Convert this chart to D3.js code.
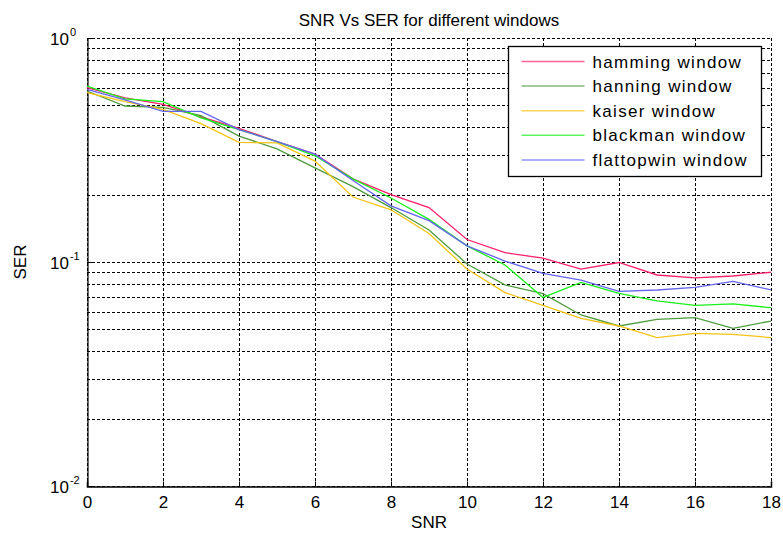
<!DOCTYPE html>
<html>
<head>
<meta charset="utf-8">
<script src="https://cdn.jsdelivr.net/npm/d3@7"></script>
<style>
  body { margin: 0; background: #fff; }
  text { font-family: "Liberation Sans", Arial, sans-serif; fill: #000; }
</style>
</head>
<body>
<div id="chart"></div>
<script>
// SNR values (x axis)
const snr = [0, 1, 2, 3, 4, 5, 6, 7, 8, 9, 10, 11, 12, 13, 14, 15, 16, 17, 18];

// SER per window
const hamming   = [0.60, 0.54, 0.505, 0.445, 0.395, 0.345, 0.303, 0.235, 0.200, 0.175, 0.126, 0.110, 0.104, 0.093, 0.0995, 0.0875, 0.085, 0.0866, 0.090];
const hanning   = [0.58, 0.497, 0.49, 0.45, 0.365, 0.32, 0.263, 0.217, 0.175, 0.139, 0.098, 0.079, 0.0722, 0.058, 0.0518, 0.0555, 0.0565, 0.0506, 0.0545];
const kaiser    = [0.57, 0.52, 0.48, 0.415, 0.342, 0.34, 0.282, 0.195, 0.171, 0.134, 0.093, 0.073, 0.064, 0.056, 0.0518, 0.046, 0.048, 0.0475, 0.046];
const blackman  = [0.61, 0.535, 0.52, 0.44, 0.39, 0.345, 0.298, 0.235, 0.193, 0.155, 0.118, 0.097, 0.0695, 0.081, 0.0725, 0.067, 0.064, 0.065, 0.0625];
const flattopwin = [0.59, 0.53, 0.47, 0.47, 0.39, 0.345, 0.303, 0.231, 0.178, 0.153, 0.118, 0.101, 0.089, 0.083, 0.074, 0.075, 0.077, 0.082, 0.075];

const seriesNames = ["hamming window", "hanning window", "kaiser window", "blackman window", "flattopwin window"];
const seriesValues = [hamming, hanning, kaiser, blackman, flattopwin];
const seriesColors = ["#ff1f6b", "#4f9c3e", "#f5c215", "#19f019", "#6565ee"];

const xTicks = [0, 2, 4, 6, 8, 10, 12, 14, 16, 18];
const yDecades = [1, 0.1, 0.01];
const yDecadeLabels = ["0", "-1", "-2"];

// Dimensions
const width = 783, height = 536;
const margin = {left: 87, right: 12, top: 38, bottom: 50};

const svg = d3.select("#chart")
    .append("svg")
        .attr("width", width)
        .attr("height", height);

const x = d3.scaleLinear()
    .domain([0, 18])
    .range([margin.left, width - margin.right]);

const y = d3.scaleLog()
    .domain([0.01, 1])
    .range([height - margin.bottom, margin.top]);

// Grid lines (minor log grid included)
const yGrid = [];
for (let d = 0.01; d < 1; d *= 10) {
    for (let k = 1; k <= 9; k++) yGrid.push(+(d * k).toPrecision(3));
}
yGrid.push(1);

const grid = svg.append("g")
    .attr("stroke", "#000")
    .attr("stroke-width", 1)
    .attr("stroke-dasharray", "3,2")
    .attr("shape-rendering", "crispEdges");

grid.selectAll("line.gy")
    .data(yGrid)
    .enter()
    .append("line")
        .attr("x1", x(0))
        .attr("x2", x(18))
        .attr("y1", d => Math.round(y(d)) + 0.5)
        .attr("y2", d => Math.round(y(d)) + 0.5);

grid.selectAll("line.gx")
    .data(xTicks)
    .enter()
    .append("line")
        .attr("x1", d => Math.round(x(d)) + 0.5)
        .attr("x2", d => Math.round(x(d)) + 0.5)
        .attr("y1", y(1))
        .attr("y2", y(0.01));

// Axes
const xAxis = d3.axisBottom(x)
    .tickValues(xTicks)
    .tickSize(-5)
    .tickPadding(9)
    .tickFormat(d3.format("d"));

const xg = svg.append("g")
    .attr("transform", `translate(0,${Math.round(y(0.01)) + 0.5})`)
    .call(xAxis);
xg.select(".domain").attr("stroke-width", 1.5);
xg.selectAll("text")
    .attr("font-size", 17)
    .attr("font-family", "Liberation Sans, Arial, sans-serif");

const yAxis = d3.axisLeft(y)
    .tickValues(yDecades)
    .tickSize(-5)
    .tickFormat("");

const yg = svg.append("g")
    .attr("transform", `translate(${Math.round(x(0)) + 0.5},0)`)
    .call(yAxis);
yg.select(".domain").attr("stroke-width", 1.2);

// y tick labels as 10^n
const yLabels = svg.append("g");
yDecades.forEach((d, i) => {
    const t = yLabels.append("text")
        .attr("x", 50)
        .attr("y", y(d) + 7)
        .attr("font-size", 17);
    t.append("tspan").text("10");
    t.append("tspan")
        .attr("font-size", 11)
        .attr("dy", -9)
        .attr("dx", 1)
        .text(yDecadeLabels[i]);
});

// Lines
const line = d3.line()
    .x((d, i) => x(snr[i]))
    .y(d => y(d));

svg.append("g")
    .selectAll("path")
    .data(seriesValues)
    .enter()
    .append("path")
        .attr("fill", "none")
        .attr("stroke", (d, i) => seriesColors[i])
        .attr("stroke-width", 1.3)
        .attr("d", line);

// Title and axis labels
svg.append("text")
    .attr("x", (x(0) + x(18)) / 2)
    .attr("y", 26)
    .attr("text-anchor", "middle")
    .attr("font-size", 17)
    .text("SNR Vs SER for different windows");

svg.append("text")
    .attr("x", (x(0) + x(18)) / 2)
    .attr("y", 528)
    .attr("text-anchor", "middle")
    .attr("font-size", 17)
    .text("SNR");

svg.append("text")
    .attr("transform", `translate(26,${y(0.1)}) rotate(-90)`)
    .attr("text-anchor", "middle")
    .attr("font-size", 17)
    .text("SER");

// Legend
const legend = svg.append("g").attr("transform", "translate(508.5,46.5)");
legend.append("rect")
    .attr("width", 253)
    .attr("height", 130)
    .attr("fill", "#fff")
    .attr("stroke", "#000")
    .attr("stroke-width", 1.3);

const items = legend.selectAll("g.item")
    .data(seriesNames)
    .enter()
    .append("g")
        .attr("transform", (d, i) => `translate(0,${15 + i * 24.6})`);

items.append("line")
    .attr("x1", 13)
    .attr("x2", 76)
    .attr("stroke", (d, i) => seriesColors[i])
    .attr("stroke-opacity", 0.7)
    .attr("stroke-width", 1.5);

items.append("text")
    .attr("x", 84)
    .attr("y", 6)
    .attr("font-size", 17)
    .attr("letter-spacing", 1.3)
    .text(d => d);
</script>
</body>
</html>
